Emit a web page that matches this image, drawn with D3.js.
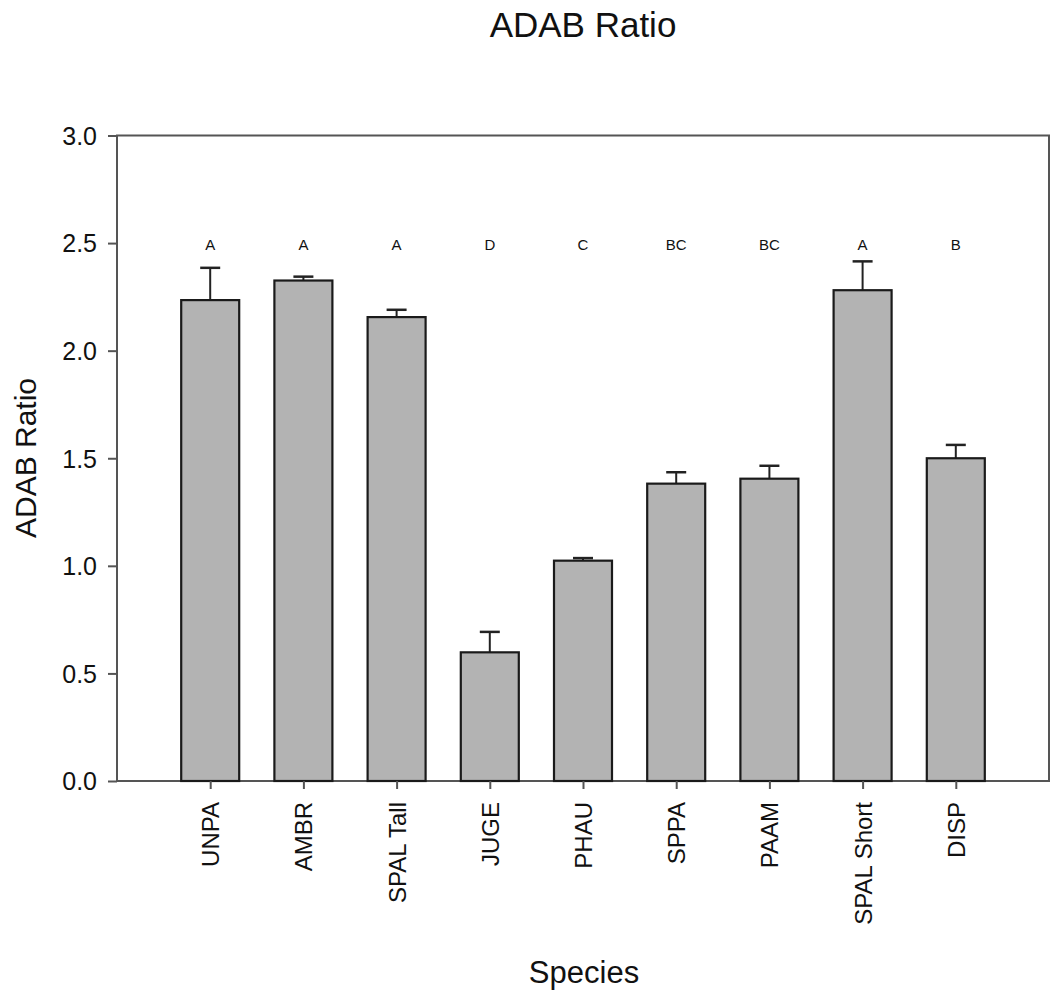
<html>
<title>ADAB Ratio</title>
<script src="https://d3js.org/d3.v7.min.js"></script>
<style>
body { margin: 0; background: #fff; }
text { font-family: "Liberation Sans", Arial, sans-serif; fill: #111; }
</style>
<body>
<svg id="chart" width="1051" height="992"></svg>
<script>

var species = ["UNPA", "AMBR", "SPAL Tall", "JUGE", "PHAU", "SPPA", "PAAM", "SPAL Short", "DISP"];
var ratios = [2.235, 2.326, 2.156, 0.598, 1.024, 1.382, 1.405, 2.281, 1.500];
var errTops = [2.385, 2.344, 2.190, 0.693, 1.036, 1.435, 1.465, 2.415, 1.562];
var groups = ["A", "A", "A", "D", "C", "BC", "BC", "A", "B"];
var yTicks = [0, 0.5, 1.0, 1.5, 2.0, 2.5, 3.0];

var svg = d3.select("#chart");
var plotL = 117, plotR = 1049, plotT = 135.5, plotB = 781;

var x = d3.scalePoint().domain(species).range([plotL, plotR]).padding(1);
var y = d3.scaleLinear().domain([0, 3]).range([plotB, plotT]);
var barW = 58;

var rows = species.map(function (s, i) {
	return { name: s, v: ratios[i], e: errTops[i], g: groups[i] };
});

// plot frame
svg.append("rect")
	.attr("x", plotL).attr("y", plotT)
	.attr("width", plotR - plotL).attr("height", plotB - plotT)
	.attr("fill", "none").attr("stroke", "#555").attr("stroke-width", 2);

// error bars (drawn first so bars cover the stem base)
var eb = svg.selectAll("g.err").data(rows).enter().append("g").attr("class", "err");
eb.append("line")
	.attr("x1", function (d) { return x(d.name); })
	.attr("x2", function (d) { return x(d.name); })
	.attr("y1", function (d) { return y(d.v); })
	.attr("y2", function (d) { return y(d.e); })
	.attr("stroke", "#222").attr("stroke-width", 2);
eb.append("line")
	.attr("x1", function (d) { return x(d.name) - 10; })
	.attr("x2", function (d) { return x(d.name) + 10; })
	.attr("y1", function (d) { return y(d.e); })
	.attr("y2", function (d) { return y(d.e); })
	.attr("stroke", "#222").attr("stroke-width", 2.5);

svg.selectAll("rect.bar").data(rows).enter().append("rect")
	.attr("class", "bar")
	.attr("x", function (d) { return x(d.name) - barW / 2; })
	.attr("y", function (d) { return y(d.v); })
	.attr("width", barW)
	.attr("height", function (d) { return plotB - y(d.v); })
	.attr("fill", "#b3b3b3").attr("stroke", "#1a1a1a").attr("stroke-width", 2.2);

// significance letters
svg.selectAll("text.grp").data(rows).enter().append("text")
	.attr("class", "grp")
	.attr("x", function (d) { return x(d.name); })
	.attr("y", 250)
	.attr("text-anchor", "middle")
	.style("font-size", "15px")
	.text(function (d) { return d.g; });

// y axis
var yAxis = svg.append("g")
	.attr("transform", "translate(" + plotL + ",0)")
	.call(d3.axisLeft(y).tickValues(yTicks).tickFormat(d3.format(".1f")).tickSize(9).tickPadding(11));
yAxis.select(".domain").remove();
yAxis.selectAll(".tick line").attr("stroke", "#555").attr("stroke-width", 2);
yAxis.selectAll(".tick text").style("font-size", "25px").attr("dy", "0.35em");

// x axis
var xAxis = svg.append("g")
	.attr("transform", "translate(0," + plotB + ")")
	.call(d3.axisBottom(x).tickSize(8).tickSizeOuter(0));
xAxis.select(".domain").remove();
xAxis.selectAll(".tick line").attr("stroke", "#555").attr("stroke-width", 2);
xAxis.selectAll(".tick text")
	.style("font-size", "24px")
	.attr("text-anchor", "end")
	.attr("transform", "rotate(-90)")
	.attr("x", -21).attr("y", 0).attr("dy", "0.35em");

// titles
svg.append("text")
	.attr("x", 583).attr("y", 37)
	.attr("text-anchor", "middle")
	.style("font-size", "35px")
	.text("ADAB Ratio");

svg.append("text")
	.attr("transform", "translate(36,458) rotate(-90)")
	.attr("text-anchor", "middle")
	.style("font-size", "30px")
	.text("ADAB Ratio");

svg.append("text")
	.attr("x", 584).attr("y", 983)
	.attr("text-anchor", "middle")
	.style("font-size", "31px")
	.text("Species");

</script>
</body>
</html>
